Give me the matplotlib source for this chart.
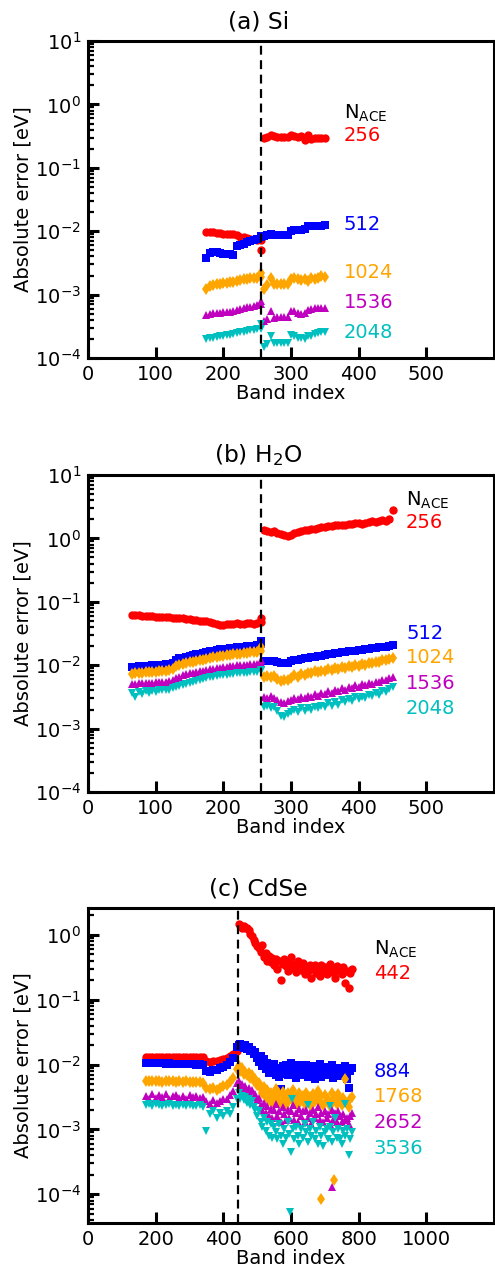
import numpy as np
import matplotlib.pyplot as plt

# ---------------- (a) Si ----------------
si_band = list(range(175, 256, 5)) + [256] + list(range(260, 351, 5))
si_nace = ['256', '512', '1024', '1536', '2048']
si_256 = [0.0098, 0.0098, 0.0096, 0.0094, 0.0093, 0.0092, 0.0091, 0.0091, 0.0089, 0.0086,
          0.0082, 0.0080, 0.0078, 0.0076, 0.0075, 0.0074, 0.0073,
          0.0050,
          0.30, 0.31, 0.33, 0.32, 0.31, 0.31, 0.31, 0.31, 0.33, 0.32,
          0.31, 0.32, 0.27, 0.33, 0.29, 0.30, 0.30, 0.30, 0.30]
si_512 = np.array([3.8, 4.6, 4.7, 4.7, 4.5, 4.3, 4.4, 4.3, 4.2, 5.8,
                   6.0, 6.4, 6.7, 7.0, 7.2, 7.5, 8.0,
                   8.3,
                   8.5, 8.7, 9.0, 8.6, 8.6, 8.7, 8.6, 8.8, 10.2, 10.4,
                   10.6, 10.6, 11.0, 12.0, 12.2, 12.0, 12.2, 12.3, 12.4]) * 1e-3
si_1024 = np.array([1.25, 1.35, 1.4, 1.45, 1.45, 1.5, 1.55, 1.6, 1.6, 1.65,
                    1.7, 1.75, 1.75, 1.8, 1.85, 1.85, 1.9,
                    2.2,
                    1.25, 1.4, 1.8, 1.45, 1.45, 1.45, 1.45, 1.45, 1.75, 1.8,
                    1.75, 1.7, 1.75, 1.65, 1.8, 1.75, 1.85, 1.95, 1.9]) * 1e-3
si_1536 = np.array([4.7, 5.0, 5.1, 5.1, 5.2, 5.3, 5.4, 5.4, 5.6, 5.8,
                    6.0, 6.2, 6.3, 6.5, 6.7, 6.9, 7.2,
                    7.8,
                    3.9, 4.2, 5.6, 4.3, 4.4, 4.4, 4.5, 4.5, 5.6, 5.5,
                    5.2, 5.0, 5.2, 5.7, 5.9, 6.1, 6.1, 6.2, 6.1]) * 1e-4
si_2048 = np.array([2.0, 2.05, 2.1, 2.15, 2.2, 2.2, 2.3, 2.35, 2.4, 2.5,
                    2.55, 2.6, 2.7, 2.75, 2.8, 2.9, 2.9,
                    3.4,
                    1.5, 1.65, 2.2, 1.7, 1.7, 1.7, 1.7, 1.75, 2.3, 2.2,
                    2.1, 2.05, 2.0, 2.2, 2.2, 2.4, 2.5, 2.55, 2.6]) * 1e-4
si_label_y = [0.32, 0.013, 2.2e-3, 7.4e-4, 2.5e-4]

# ---------------- (b) H2O ----------------
h2o_band = list(range(65, 256, 5)) + [256] + list(range(260, 451, 5))
h2o_nace = ['256', '512', '1024', '1536', '2048']
h2o_256 = [0.061, 0.062, 0.061, 0.060, 0.060, 0.059, 0.059, 0.058, 0.058, 0.057,
           0.058, 0.057, 0.056, 0.055, 0.056, 0.055, 0.054, 0.053, 0.052, 0.051,
           0.050, 0.050, 0.049, 0.048, 0.047, 0.045, 0.043, 0.043, 0.044, 0.045,
           0.045, 0.046, 0.045, 0.045, 0.046, 0.046, 0.045, 0.046, 0.048,
           0.056,
           1.35, 1.30, 1.28, 1.32, 1.22, 1.18, 1.12, 1.10, 1.15, 1.22,
           1.25, 1.30, 1.35, 1.38, 1.40, 1.42, 1.48, 1.52, 1.50, 1.58,
           1.55, 1.60, 1.65, 1.62, 1.65, 1.70, 1.68, 1.72, 1.75, 1.70,
           1.78, 1.80, 1.85, 1.82, 1.90, 1.95, 1.88, 2.00, 2.80]
h2o_512 = np.array([9.3, 9.5, 9.6, 9.6, 9.8, 9.8, 9.9, 10.0, 10.1, 10.2,
                    10.3, 10.6, 11.0, 12.3, 12.8, 13.2, 13.6, 14.0, 14.4, 14.8,
                    15.2, 15.6, 16.0, 16.5, 17.0, 17.4, 17.7, 18.0, 18.3, 18.6,
                    19.0, 19.2, 19.5, 19.7, 20.0, 20.2, 20.4, 20.8, 21.5,
                    24.0,
                    11.8, 11.8, 11.6, 11.5, 11.3, 10.8, 10.7, 11.0, 11.5, 12.0,
                    12.3, 12.6, 12.9, 13.2, 13.5, 13.7, 14.0, 14.2, 14.5, 14.8,
                    15.0, 15.3, 15.6, 15.9, 16.2, 16.5, 16.8, 17.0, 17.3, 17.6,
                    17.9, 18.2, 18.5, 18.8, 19.1, 19.4, 19.7, 20.0, 20.5]) * 1e-3
h2o_1024 = np.array([7.2, 7.4, 7.5, 7.6, 7.7, 7.7, 7.8, 7.9, 8.0, 8.1,
                     8.2, 8.4, 8.6, 9.8, 10.2, 10.5, 10.8, 11.1, 11.4, 11.7,
                     12.0, 12.3, 12.6, 13.0, 13.3, 13.6, 13.9, 14.1, 14.3, 14.5,
                     14.8, 15.0, 15.2, 15.5, 15.7, 15.9, 16.1, 16.4, 17.0,
                     19.5,
                     6.4, 6.8, 6.5, 6.7, 6.0, 5.7, 5.8, 5.9, 6.3, 6.9,
                     6.6, 7.2, 7.0, 7.6, 7.4, 8.0, 7.7, 8.2, 8.0, 8.6,
                     8.3, 8.9, 8.7, 9.3, 9.0, 9.6, 9.4, 10.0, 9.7, 10.4,
                     10.2, 10.9, 10.7, 11.3, 11.2, 11.9, 12.0, 12.6, 13.0]) * 1e-3
h2o_1536 = np.array([5.0, 5.1, 5.2, 5.2, 5.3, 5.3, 5.3, 5.4, 5.4, 5.5,
                     5.5, 5.6, 5.8, 6.2, 6.6, 6.9, 7.2, 7.4, 7.6, 7.8,
                     8.0, 8.2, 8.4, 8.6, 8.8, 9.0, 9.2, 9.4, 9.5, 9.6,
                     9.8, 9.9, 10.0, 10.1, 10.2, 10.4, 10.5, 10.6, 10.9,
                     12.0,
                     3.2, 3.0, 3.3, 3.0, 2.8, 2.6, 2.5, 2.7, 2.8, 3.0,
                     2.9, 3.2, 3.0, 3.3, 3.2, 3.5, 3.3, 3.7, 3.5, 3.9,
                     3.7, 4.1, 3.9, 4.3, 4.1, 4.5, 4.3, 4.8, 4.6, 5.0,
                     4.8, 5.3, 5.1, 5.5, 5.4, 5.9, 5.8, 6.2, 6.6]) * 1e-3
h2o_2048 = np.array([3.6, 3.2, 3.8, 3.5, 3.9, 3.7, 3.9, 3.8, 4.0, 4.0,
                     4.1, 4.1, 4.3, 4.5, 4.7, 4.9, 5.1, 5.3, 5.5, 5.7,
                     5.9, 6.0, 6.2, 6.4, 6.6, 6.7, 6.9, 7.0, 7.1, 7.2,
                     7.3, 7.4, 7.5, 7.6, 7.6, 7.7, 7.8, 7.9, 8.1,
                     8.3,
                     2.2, 2.3, 2.1, 2.2, 1.9, 1.6, 1.5, 1.7, 1.8, 2.0,
                     1.8, 2.1, 1.9, 2.1, 2.0, 2.2, 2.1, 2.3, 2.2, 2.5,
                     2.3, 2.6, 2.4, 2.8, 2.6, 2.9, 2.7, 3.1, 2.9, 3.2,
                     3.0, 3.4, 3.3, 3.6, 3.4, 3.9, 3.8, 4.2, 4.6]) * 1e-3
h2o_label_y = [1.75, 0.032, 0.013, 5.2e-3, 2.1e-3]

# ---------------- (c) CdSe ----------------
cdse_band = list(range(170, 441, 10)) + list(range(445, 781, 5))
cdse_nace = ['442', '884', '1768', '2652', '3536']
cdse_442 = [0.0130, 0.0132, 0.0131, 0.0130, 0.0132, 0.0131, 0.0130, 0.0131, 0.0132, 0.0130,
            0.0131, 0.0132, 0.0131, 0.0130, 0.0132, 0.0133, 0.0132, 0.0133, 0.0112, 0.0110,
            0.0113, 0.0114, 0.0117, 0.0120, 0.0126, 0.0134, 0.0145, 0.0160,
            1.45, 1.40, 1.30, 1.35, 1.28, 1.30, 1.20, 1.05, 0.95, 0.85,
            0.75, 0.68, 0.62, 0.55, 0.70, 0.45, 0.52, 0.40, 0.47, 0.38,
            0.44, 0.35, 0.42, 0.30, 0.39, 0.20, 0.36, 0.42, 0.33, 0.28,
            0.38, 0.45, 0.31, 0.36, 0.27, 0.40, 0.33, 0.29, 0.37, 0.25,
            0.32, 0.28, 0.35, 0.22, 0.30, 0.34, 0.26, 0.31, 0.23, 0.35,
            0.28, 0.32, 0.25, 0.30, 0.36, 0.27, 0.31, 0.22, 0.33, 0.28,
            0.30, 0.25, 0.32, 0.18, 0.28, 0.15, 0.26, 0.30]
cdse_884 = np.array([10.5, 10.6, 10.5, 10.4, 10.5, 10.4, 10.3, 10.4, 10.3, 10.3,
                     10.2, 10.3, 10.2, 10.1, 10.2, 10.0, 10.1, 9.9, 8.0, 7.8,
                     8.2, 8.4, 8.8, 9.2, 9.8, 10.8, 12.5, 18.5,
                     20.0, 21.0, 19.0, 18.0, 20.0, 17.5, 19.0, 16.0, 17.0, 14.5,
                     15.5, 12.5, 11.0, 13.5, 9.5, 12.0, 8.5, 10.5, 7.5, 9.8,
                     8.0, 10.2, 7.0, 8.8, 6.5, 4.2, 9.5, 7.2, 10.0, 6.8,
                     8.5, 10.5, 7.0, 9.0, 6.2, 8.0, 9.8, 6.8, 8.5, 7.5,
                     10.0, 6.5, 8.2, 7.0, 9.5, 6.0, 8.8, 7.2, 10.2, 6.5,
                     8.0, 9.2, 6.8, 8.5, 7.0, 9.8, 6.2, 8.6, 7.4, 9.0,
                     6.6, 8.4, 7.2, 9.5, 6.0, 4.3, 8.0, 9.0]) * 1e-3
cdse_1768 = np.array([5.5, 5.6, 5.5, 5.6, 5.5, 5.4, 5.5, 5.6, 5.5, 5.4,
                      5.5, 5.4, 5.5, 5.4, 5.3, 5.4, 5.3, 5.2, 4.4, 4.2,
                      4.3, 4.1, 4.3, 4.6, 4.8, 5.3, 6.2, 8.5,
                      9.5, 8.0, 8.8, 7.2, 7.8, 6.8, 7.5, 6.2, 6.8, 5.5,
                      6.0, 4.8, 5.2, 4.2, 3.6, 4.5, 3.2, 4.0, 2.8, 3.6,
                      2.6, 3.4, 4.2, 2.9, 3.5, 2.5, 3.8, 3.1, 2.4, 3.6,
                      2.8, 3.4, 4.0, 2.6, 3.2, 2.4, 3.7, 2.9, 3.3, 2.5,
                      3.6, 2.8, 3.2, 2.3, 3.5, 2.7, 3.1, 3.9, 2.6, 3.3,
                      2.4, 3.4, 2.8, 3.0, 2.3, 3.6, 2.7, 3.2, 2.5, 3.5,
                      2.9, 2.4, 3.1, 6.0, 2.6, 2.2, 3.0, 3.2]) * 1e-3
cdse_2652 = np.array([3.3, 3.0, 3.5, 3.1, 3.4, 3.2, 3.5, 3.0, 3.3, 3.4,
                      3.1, 3.3, 3.0, 3.4, 3.2, 3.3, 3.1, 3.2, 2.7, 2.5,
                      2.8, 2.6, 2.7, 2.9, 3.0, 3.4, 3.9, 5.2,
                      5.5, 4.6, 5.0, 4.2, 4.6, 3.9, 4.3, 3.6, 4.0, 3.2,
                      3.5, 2.8, 3.1, 2.4, 2.0, 2.6, 1.8, 2.3, 1.6, 2.1,
                      1.5, 2.0, 2.5, 1.6, 1.9, 1.3, 2.2, 1.7, 1.4, 2.0,
                      1.5, 1.9, 2.4, 1.4, 1.8, 1.3, 2.1, 1.6, 1.9, 1.3,
                      2.0, 1.5, 1.8, 1.2, 2.0, 1.5, 1.7, 2.2, 1.4, 1.8,
                      1.3, 1.9, 1.5, 1.7, 1.2, 2.0, 1.4, 1.8, 1.3, 1.9,
                      1.6, 1.3, 1.7, 1.4, 1.5, 1.2, 1.6, 1.8]) * 1e-3
cdse_3536 = np.array([2.4, 2.5, 2.3, 2.5, 2.4, 2.3, 2.4, 2.5, 2.3, 2.4,
                      2.3, 2.4, 2.3, 2.4, 2.3, 2.3, 2.4, 2.2, 0.95, 1.7,
                      1.9, 1.5, 1.8, 1.6, 1.9, 1.7, 2.2, 3.0,
                      3.6, 3.0, 3.3, 2.8, 3.2, 2.6, 2.9, 2.4, 2.7, 2.2,
                      2.0, 1.6, 1.9, 1.3, 1.1, 1.5, 0.95, 1.3, 0.8, 1.2,
                      0.75, 1.1, 0.9, 0.7, 1.2, 0.8, 0.6, 1.0, 0.75, 1.3,
                      0.85, 0.45, 1.0, 0.7, 1.1, 0.8, 0.6, 1.0, 0.75, 1.2,
                      0.9, 0.65, 1.0, 0.8, 1.3, 0.7, 0.95, 0.6, 1.1, 0.8,
                      0.55, 0.9, 1.0, 0.7, 1.1, 0.65, 0.9, 1.5, 0.75, 1.0,
                      0.7, 0.6, 0.95, 0.8, 1.0, 0.4, 0.7, 0.9]) * 1e-3
# isolated bands away from the main trend
cdse_1768_extra_band = [688, 727]
cdse_1768_extra = [8.6e-5, 1.65e-4]
cdse_2652_extra_band = [720]
cdse_2652_extra = [1.3e-4]
cdse_3536_extra_band = [596, 604, 650, 715, 760]
cdse_3536_extra = [5.3e-5, 2.9e-3, 2.4e-3, 2.3e-3, 2.5e-3]
cdse_label_y = [0.25, 7.8e-3, 3.2e-3, 1.26e-3, 5.1e-4]

colors = ['red', 'blue', 'orange', 'm', 'c']
markers = ['o', 's', 'd', '^', 'v']
sizes = [6, 6, 6.5, 6, 6]

plt.rcParams.update({'font.size': 14})
fig = plt.figure(figsize=(4.95, 12.82), dpi=100)

ax_a = fig.add_axes([0.1778, 0.7207, 0.8202, 0.2473])
ax_b = fig.add_axes([0.1778, 0.3822, 0.8202, 0.2473])
ax_c = fig.add_axes([0.1778, 0.0460, 0.8202, 0.2457])


def draw_panel(ax, band, series, nace, label_y, label_x, nace_y, homo, xmax, xticks, ylim, title):
    for vals, c, m, s in zip(series, colors, markers, sizes):
        ax.plot(band, vals, ls='none', marker=m, color=c, ms=s, mew=0)
    ax.axvline(homo, color='k', ls='--', lw=1.6, dashes=(4, 2.5))
    ax.set_yscale('log')
    ax.set_xlim(0, xmax)
    ax.set_ylim(*ylim)
    ax.set_xticks(xticks)
    ax.text(label_x, nace_y, r'N$_{\rm ACE}$', color='k', va='center')
    for lab, y, c in zip(nace, label_y, colors):
        ax.text(label_x, y, lab, color=c, va='center')
    ax.set_xlabel('Band index', labelpad=0)
    ax.set_ylabel('Absolute error [eV]', labelpad=2)
    ax.set_title(title, x=0.42, pad=9)
    for sp in ax.spines.values():
        sp.set_linewidth(2.2)
    ax.tick_params(which='major', direction='in', length=8, width=2.2, pad=5)
    ax.tick_params(which='minor', direction='in', length=4, width=1.6)
    ax.tick_params(axis='x', which='minor', bottom=False)


draw_panel(ax_a, si_band, [si_256, si_512, si_1024, si_1536, si_2048], si_nace, si_label_y,
           378, 0.73, 256, 600, [0, 100, 200, 300, 400, 500], (1e-4, 1e1), '(a) Si')
draw_panel(ax_b, h2o_band, [h2o_256, h2o_512, h2o_1024, h2o_1536, h2o_2048], h2o_nace, h2o_label_y,
           470, 4.0, 256, 600, [0, 100, 200, 300, 400, 500], (1e-4, 1e1), r'(b) H$_2$O')
draw_panel(ax_c, cdse_band, [cdse_442, cdse_884, cdse_1768, cdse_2652, cdse_3536], cdse_nace, cdse_label_y,
           844, 0.59, 442, 1200, [0, 200, 400, 600, 800, 1000], (3.6e-5, 2.6), '(c) CdSe')

ax_c.plot(cdse_1768_extra_band, cdse_1768_extra, ls='none', marker='d', color='orange', ms=6, mew=0)
ax_c.plot(cdse_2652_extra_band, cdse_2652_extra, ls='none', marker='^', color='m', ms=5.5, mew=0)
ax_c.plot(cdse_3536_extra_band, cdse_3536_extra, ls='none', marker='v', color='c', ms=5.5, mew=0)

fig.savefig('out.png', dpi=100)
